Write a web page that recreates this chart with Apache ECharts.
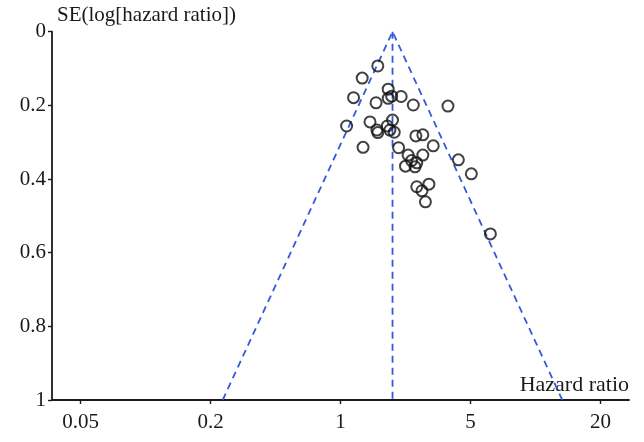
<!DOCTYPE html>
<html>
<head>
<meta charset="utf-8">
<script src="https://cdn.jsdelivr.net/npm/echarts@6/dist/echarts.min.js"></script>
<style>
  html, body { margin: 0; padding: 0; background: #fff; }
  #chart { width: 644px; height: 442px; }
</style>
</head>
<body>
<div id="chart"></div>
<script>
// study estimates: log(hazard ratio) and its standard error
var logHR = [
  0.43, 0.25, 0.55, 0.15, 0.41, 0.55, 0.59, 0.70, 0.84, 1.24,
  0.07, 0.34, 0.60, 0.54, 0.42, 0.43, 0.57, 0.62, 0.87, 0.95,
  0.26, 0.67, 1.07, 0.78, 0.95, 0.82, 0.88, 0.75, 0.86, 1.36,
  1.51, 0.88, 1.02, 0.94, 0.98, 1.73
]
var seLogHR = [
  0.093, 0.126, 0.156, 0.179, 0.193, 0.181, 0.175, 0.176, 0.199, 0.202,
  0.256, 0.245, 0.240, 0.256, 0.267, 0.274, 0.267, 0.273, 0.283, 0.280,
  0.314, 0.315, 0.310, 0.335, 0.335, 0.350, 0.356, 0.365, 0.367, 0.348,
  0.386, 0.421, 0.414, 0.432, 0.462, 0.549
]
var pooledLogHR = 0.6
var seMax = 1

// x ticks sit at log values, labelled as hazard ratios
var xTickValues = [-3, -1.5, 0, 1.5, 3]
var xTickLabels = ['0.05', '0.2', '1', '5', '20']

var font = 'Liberation Serif'
var ink = '#1a1a1a'
var dashBlue = '#3558dc'

var points = logHR.map(function (v, i) { return [v, seLogHR[i]] })
var funnel = [
  [pooledLogHR - 1.96 * seMax, seMax],
  [pooledLogHR, 0],
  [pooledLogHR + 1.96 * seMax, seMax]
]
var centre = [[pooledLogHR, 0], [pooledLogHR, seMax]]

var chart = echarts.init(document.getElementById('chart'))
chart.setOption({
  animation: false,
  grid: { left: 52, right: 15, top: 31.7, bottom: 42 },
  xAxis: {
    type: 'value',
    min: -3.331,
    max: 3.33,
    splitLine: { show: false },
    axisLine: { onZero: false, lineStyle: { color: ink, width: 1.8 } },
    axisTick: { customValues: xTickValues, length: 4, lineStyle: { color: ink, width: 1.4 } },
    axisLabel: {
      customValues: xTickValues,
      margin: 12,
      fontFamily: font,
      fontSize: 21,
      color: ink,
      formatter: function (v) {
        var k = xTickValues.indexOf(v)
        return k >= 0 ? xTickLabels[k] : ''
      }
    }
  },
  yAxis: {
    type: 'value',
    inverse: true,
    min: 0,
    max: seMax,
    interval: 0.2,
    splitLine: { show: false },
    axisLine: { onZero: false, lineStyle: { color: ink, width: 1.8 } },
    axisTick: { length: 4, lineStyle: { color: ink, width: 1.4 } },
    axisLabel: {
      margin: 6,
      fontFamily: font,
      fontSize: 21,
      color: ink,
      formatter: function (v) { return String(+v.toFixed(1)) }
    }
  },
  graphic: [
    {
      type: 'text',
      left: 57,
      top: 5,
      style: { text: 'SE(log[hazard ratio])', font: '21px "Liberation Serif"', fill: ink }
    },
    {
      type: 'text',
      right: 15,
      top: 374,
      style: { text: 'Hazard ratio', font: '22px "Liberation Serif"', fill: ink }
    }
  ],
  series: [
    {
      type: 'line',
      data: funnel,
      symbol: 'none',
      lineStyle: { color: dashBlue, width: 1.8, type: [7, 5] },
      z: 1
    },
    {
      type: 'line',
      data: centre,
      symbol: 'none',
      lineStyle: { color: dashBlue, width: 1.8, type: [7, 5] },
      z: 1
    },
    {
      type: 'scatter',
      data: points,
      symbol: 'circle',
      symbolSize: 11,
      itemStyle: { color: 'rgba(255,255,255,0)', borderColor: '#111', borderWidth: 2 },
      z: 3
    }
  ]
})
</script>
</body>
</html>
